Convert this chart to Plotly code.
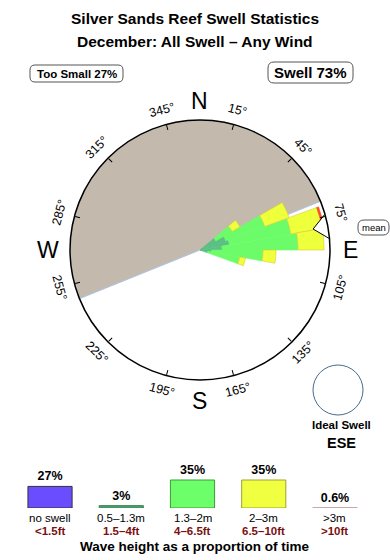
import math
import plotly.graph_objects as go

W_PX, H_PX = 390, 560
FONT = "Liberation Sans, Arial, sans-serif"

# ---------------- data ----------------
petal_dirs = [55, 65, 75, 85, 95, 105]          # bearing of each 10-degree bin
band_teal = [14, 21, 23, 17, 9, 6]              # 0.5-1.3m
band_green = [14.5, 32, 48, 58.5, 39.5, 25]     # 1.3-2m
band_yellow = [7, 20, 24.5, 20, 10, 4.5]        # 2-3m
band_red = [0, 0, 1.5, 0, 0, 0]                 # >3m
too_small_center = 338                          # half-disk showing "too small"
too_small_width = 180
mean_dir = 79.5

legend_cats = ["no swell", "0.5\u20131.3m", "1.3\u20132m", "2\u20133m", ">3m"]
legend_ft = ["&lt;1.5ft", "1.5\u20134ft", "4\u20136.5ft", "6.5\u201310ft", "&gt;10ft"]
legend_pct = [27, 3, 35, 35, 0.6]
legend_colors = ["#6a4dff", "#4c9e6c", "#6dff6a", "#f0ff40", "#dcc0c0"]
legend_lines = ["#333333", "#3f8a5c", "#3c9a3c", "#a0a030", "#c8a8a8"]

tick_angles = list(range(15, 360, 30))

# ---------------- helpers ----------------
def px(x):
    return x / W_PX

def py(y):
    return 1 - y / H_PX

CX, CY, R = 200, 250, 130

fig = go.Figure()

# too-small half disk
fig.add_trace(go.Barpolar(
    r=[100], theta=[too_small_center], width=[too_small_width],
    marker=dict(color="#c4b9ad", line=dict(color="#a9c6e6", width=1)),
    hoverinfo="skip", showlegend=False))

for vals, col, lc in [(band_teal, "#5cbf84", "#5cbf84"),
                      (band_green, "#6dfc69", "#6dfc69"),
                      (band_yellow, "#eeff3c", "#e2c838"),
                      (band_red, "#ff4a20", "#ff4a20")]:
    fig.add_trace(go.Barpolar(
        r=vals, theta=petal_dirs, width=[10] * len(petal_dirs),
        marker=dict(color=col, line=dict(color=lc, width=0.6)),
        hoverinfo="skip", showlegend=False))

# mean marker
fig.add_trace(go.Scatterpolar(
    r=[100, 88.5, 100], theta=[mean_dir - 5.5, mean_dir, mean_dir + 5.5],
    mode="lines", fill="toself", fillcolor="white",
    line=dict(color="black", width=1), hoverinfo="skip", showlegend=False))

fig.update_layout(
    polar=dict(
        domain=dict(x=[px(CX - R), px(CX + R)], y=[py(CY + R), py(CY - R)]),
        bgcolor="white",
        barmode="stack",
        radialaxis=dict(range=[0, 100], visible=False, showgrid=False),
        angularaxis=dict(rotation=90, direction="clockwise",
                         tickmode="array", tickvals=tick_angles,
                         ticks="inside", ticklen=5, tickcolor="black",
                         showticklabels=False, showgrid=False,
                         showline=True, linecolor="black", linewidth=1.5),
    ))

# legend bar chart
fig.add_trace(go.Bar(
    x=list(range(len(legend_cats))), y=legend_pct, width=0.62,
    marker=dict(color=legend_colors, line=dict(color=legend_lines, width=1)),
    text=[f"<b>{v:g}%</b>" for v in legend_pct], textposition="outside",
    textfont=dict(family=FONT, size=12.5, color="black"),
    cliponaxis=False, hoverinfo="skip", showlegend=False,
    xaxis="x", yaxis="y"))

fig.update_layout(
    xaxis=dict(domain=[px(14.4), px(370.6)], range=[-0.5, 4.5], visible=False),
    yaxis=dict(domain=[py(508), py(476)], range=[0, 40], visible=False),
)

ann = []
ann.append(dict(x=0.5, y=py(18), text="<b>Silver Sands Reef Swell Statistics</b>",
                font=dict(size=15.5, family=FONT)))
ann.append(dict(x=0.5, y=py(42), text="<b>December: All Swell \u2013 Any Wind</b>",
                font=dict(size=15.5, family=FONT)))

# tick labels
for a in tick_angles:
    rad = math.radians(a)
    lx = CX + 145 * math.sin(rad)
    ly = CY - 145 * math.cos(rad)
    ta = a % 180
    if ta > 90:
        ta -= 180
    ann.append(dict(x=px(lx), y=py(ly), text=f"{a}\u00b0", textangle=ta,
                    font=dict(size=12.5, family=FONT)))

for t, x, y in [("N", 200, 101), ("E", 350, 250), ("S", 200, 401), ("W", 48, 250)]:
    ann.append(dict(x=px(x), y=py(y), text=t, font=dict(size=23, family=FONT)))

ann.append(dict(x=px(76.5), y=py(74), text="<b>Too Small 27%</b>",
                font=dict(size=11.5, family=FONT)))
ann.append(dict(x=px(310.5), y=py(73), text="<b>Swell 73%</b>",
                font=dict(size=15, family=FONT)))
ann.append(dict(x=px(373.5), y=py(227.5), text="mean",
                font=dict(size=9.5, family=FONT)))
ann.append(dict(x=px(341), y=py(425), text="<b>Ideal Swell</b>",
                font=dict(size=11.5, family=FONT)))
ann.append(dict(x=px(341), y=py(443), text="<b>ESE</b>",
                font=dict(size=14.5, family=FONT)))

for i, (c, f) in enumerate(zip(legend_cats, legend_ft)):
    ann.append(dict(x=i, xref="x", y=py(518), text=c,
                    font=dict(size=11.5, family=FONT)))
    ann.append(dict(x=i, xref="x", y=py(531), text=f"<b>{f}</b>",
                    font=dict(size=11.5, family=FONT, color="#7a1010")))
ann.append(dict(x=px(195), y=py(546), text="<b>Wave height as a proportion of time</b>",
                font=dict(size=13.5, family=FONT)))

for a_ in ann:
    a_.setdefault("xref", "paper")
    a_.setdefault("yref", "paper")
    a_["showarrow"] = False
    a_["xanchor"] = "center"
    a_["yanchor"] = "middle"
    a_["font"].setdefault("color", "black")

def rrect(x0, y0, x1, y1, r):
    pts = (f"M {px(x0 + r)},{py(y0)} L {px(x1 - r)},{py(y0)} "
           f"Q {px(x1)},{py(y0)} {px(x1)},{py(y0 + r)} "
           f"L {px(x1)},{py(y1 - r)} Q {px(x1)},{py(y1)} {px(x1 - r)},{py(y1)} "
           f"L {px(x0 + r)},{py(y1)} Q {px(x0)},{py(y1)} {px(x0)},{py(y1 - r)} "
           f"L {px(x0)},{py(y0 + r)} Q {px(x0)},{py(y0)} {px(x0 + r)},{py(y0)} Z")
    return dict(type="path", path=pts, xref="paper", yref="paper",
                line=dict(color="#555555", width=1), fillcolor="rgba(0,0,0,0)")

shapes = [
    rrect(30, 65, 123, 82, 5),
    rrect(268, 62, 353, 83, 6),
    rrect(358, 220, 389, 235, 6),
    dict(type="circle", xref="paper", yref="paper",
         x0=px(313), x1=px(363), y0=py(415), y1=py(365),
         line=dict(color="#4a6a8c", width=1)),
]

fig.update_layout(
    width=W_PX, height=H_PX, margin=dict(l=0, r=0, t=0, b=0),
    paper_bgcolor="white", plot_bgcolor="white",
    annotations=ann, shapes=shapes, showlegend=False,
    font=dict(family=FONT),
)

fig.write_html("out.html")
